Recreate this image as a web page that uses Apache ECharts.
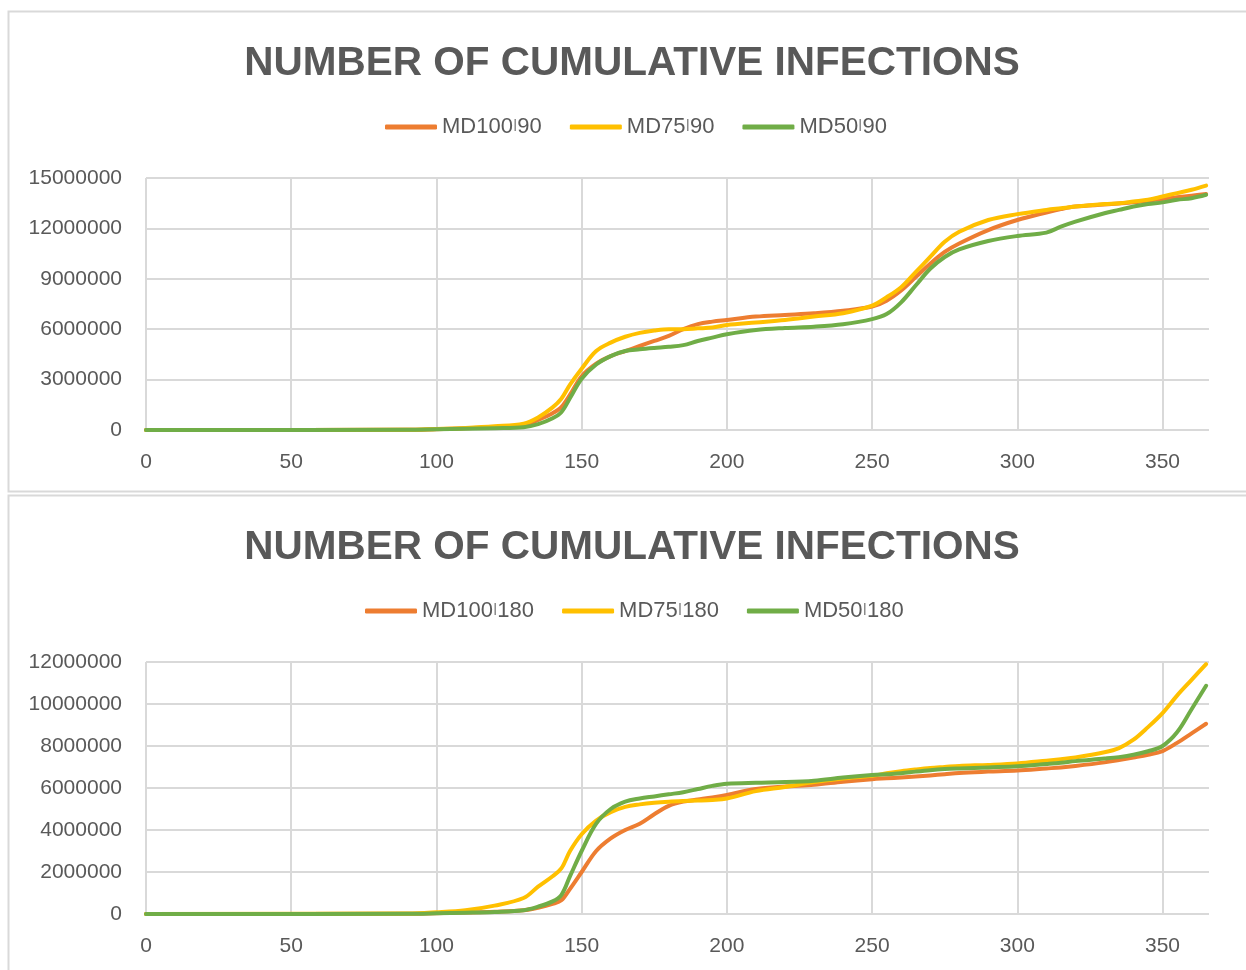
<!DOCTYPE html>
<html>
<head>
<meta charset="utf-8">
<script src="https://cdn.jsdelivr.net/npm/echarts@6/dist/echarts.min.js"></script>
<style>
html,body{margin:0;padding:0;background:#fff;overflow:hidden;}
#c{width:1246px;height:970px;}
</style>
</head>
<body>
<div id="c"></div>
<script>
const chartTitle = 'NUMBER OF CUMULATIVE INFECTIONS';
const days = [0, 90, 100, 110, 120, 130, 135, 140, 143, 146, 150, 155, 160, 165, 170, 175, 180, 185, 190, 195, 200, 210, 220, 230, 240, 250, 255, 260, 265, 270, 275, 280, 290, 300, 310, 315, 320, 330, 335, 340, 345, 350, 355, 360, 365];

const names1 = ['MD100I90', 'MD75I90', 'MD50I90'];
const md100_90 = [0, 10000, 50000, 100000, 180000, 260000, 600000, 1000000, 1360000, 2100000, 3200000, 3950000, 4400000, 4700000, 5000000, 5300000, 5600000, 6000000, 6300000, 6450000, 6550000, 6750000, 6850000, 6950000, 7100000, 7350000, 7700000, 8300000, 9100000, 9900000, 10600000, 11100000, 11900000, 12500000, 12950000, 13150000, 13300000, 13420000, 13480000, 13550000, 13650000, 13750000, 13850000, 13950000, 14050000];
const md75_90 = [0, 10000, 60000, 120000, 220000, 380000, 750000, 1350000, 1860000, 2700000, 3650000, 4700000, 5200000, 5550000, 5780000, 5920000, 6000000, 6000000, 6050000, 6100000, 6250000, 6400000, 6550000, 6750000, 6950000, 7400000, 7900000, 8500000, 9400000, 10300000, 11200000, 11800000, 12500000, 12850000, 13100000, 13200000, 13300000, 13450000, 13500000, 13600000, 13700000, 13900000, 14100000, 14300000, 14550000];
const md50_90 = [0, 10000, 40000, 70000, 110000, 170000, 350000, 700000, 1060000, 1900000, 3050000, 3900000, 4400000, 4700000, 4800000, 4880000, 4950000, 5050000, 5300000, 5500000, 5700000, 5950000, 6070000, 6150000, 6300000, 6600000, 6900000, 7600000, 8600000, 9600000, 10300000, 10750000, 11250000, 11550000, 11750000, 12100000, 12400000, 12900000, 13100000, 13300000, 13450000, 13550000, 13700000, 13800000, 14000000];

const names2 = ['MD100I180', 'MD75I180', 'MD50I180'];
const md100_180 = [0, 10000, 40000, 70000, 110000, 180000, 300000, 480000, 650000, 1200000, 2000000, 3000000, 3600000, 4000000, 4300000, 4750000, 5150000, 5350000, 5450000, 5550000, 5670000, 5950000, 6070000, 6150000, 6300000, 6420000, 6460000, 6500000, 6550000, 6600000, 6660000, 6720000, 6780000, 6830000, 6930000, 6980000, 7050000, 7220000, 7330000, 7450000, 7580000, 7760000, 8150000, 8600000, 9060000];
const md75_180 = [0, 20000, 80000, 180000, 400000, 760000, 1300000, 1800000, 2170000, 3000000, 3800000, 4450000, 4850000, 5100000, 5220000, 5300000, 5350000, 5380000, 5400000, 5430000, 5500000, 5850000, 6050000, 6280000, 6450000, 6580000, 6700000, 6800000, 6880000, 6950000, 7000000, 7050000, 7100000, 7170000, 7300000, 7370000, 7450000, 7700000, 7900000, 8300000, 8900000, 9570000, 10400000, 11150000, 11900000];
const md50_180 = [0, 10000, 30000, 60000, 100000, 180000, 350000, 600000, 900000, 1800000, 3000000, 4300000, 5000000, 5350000, 5500000, 5600000, 5700000, 5800000, 5950000, 6100000, 6200000, 6250000, 6280000, 6350000, 6500000, 6620000, 6660000, 6700000, 6780000, 6850000, 6900000, 6930000, 6980000, 7030000, 7140000, 7200000, 7280000, 7400000, 7470000, 7580000, 7750000, 8000000, 8650000, 9750000, 10870000];

const colors = ['#ED7D31', '#FFC000', '#70AD47'];
const xMax = 366, xStep = 50;
const yMax1 = 15000000, yStep1 = 3000000;
const yMax2 = 12000000, yStep2 = 2000000;

const font = 'Liberation Sans, Arial, sans-serif';
const textColor = '#595959';
const gridColor = '#D9D9D9';

function pts(arr){ return days.map((d,i)=>[d, arr[i]]); }

function xAxis(gi){
  return {type:'value', gridIndex:gi, min:0, max:xMax, interval:xStep,
    axisLine:{show:false}, axisTick:{show:false},
    splitLine:{show:true, showMaxLine:false, lineStyle:{color:gridColor, width:2}},
    axisLabel:{showMaxLabel:false, color:textColor, fontSize:21, fontFamily:font, margin:22}};
}
function yAxis(gi, max, step){
  return {type:'value', gridIndex:gi, min:0, max:max, interval:step,
    axisLine:{show:false}, axisTick:{show:false},
    splitLine:{show:true, lineStyle:{color:gridColor, width:2}},
    axisLabel:{color:textColor, fontSize:21, fontFamily:font, margin:24, formatter:v=>String(v)}};
}
function legend(names, left, top){
  return {data:names, left:left, top:top, icon:'roundRect', itemWidth:52, itemHeight:5, itemGap:28,
    textStyle:{color:textColor, fontSize:22, fontFamily:font, rich:{s:{fontSize:16, color:'#8a8a8a', fontFamily:font}}},
    formatter:n=>n.replace('I','{s|I}')};
}
function ser(name, arr, gi, ci){
  return {name:name, type:'line', xAxisIndex:gi, yAxisIndex:gi, data:pts(arr), showSymbol:false, symbol:'none',
    smooth:0.35, color:colors[ci], lineStyle:{width:4, color:colors[ci], cap:'round', join:'round'}, emphasis:{disabled:true}};
}

const chart = echarts.init(document.getElementById('c'), null, {renderer:'canvas'});
chart.setOption({
  backgroundColor:'#fff',
  animation:false,
  title:[
    {text:chartTitle, left:627, textAlign:'center', top:38, textStyle:{color:textColor, fontSize:40.5, fontWeight:'bold', fontFamily:font}},
    {text:chartTitle, left:627, textAlign:'center', top:522, textStyle:{color:textColor, fontSize:40.5, fontWeight:'bold', fontFamily:font}}
  ],
  legend:[legend(names1, 380, 111), legend(names2, 360, 595)],
  grid:[
    {left:146, top:178, width:1063, height:252},
    {left:146, top:662, width:1063, height:252}
  ],
  xAxis:[xAxis(0), xAxis(1)],
  yAxis:[yAxis(0, yMax1, yStep1), yAxis(1, yMax2, yStep2)],
  graphic:[
    {type:'rect', shape:{x:8.5, y:11.5, width:1260, height:480}, style:{fill:null, stroke:gridColor, lineWidth:2}, silent:true},
    {type:'rect', shape:{x:8.5, y:495.5, width:1260, height:500}, style:{fill:null, stroke:gridColor, lineWidth:2}, silent:true}
  ],
  series:[
    ser(names1[0], md100_90, 0, 0), ser(names1[1], md75_90, 0, 1), ser(names1[2], md50_90, 0, 2),
    ser(names2[0], md100_180, 1, 0), ser(names2[1], md75_180, 1, 1), ser(names2[2], md50_180, 1, 2)
  ]
});
</script>
</body>
</html>
